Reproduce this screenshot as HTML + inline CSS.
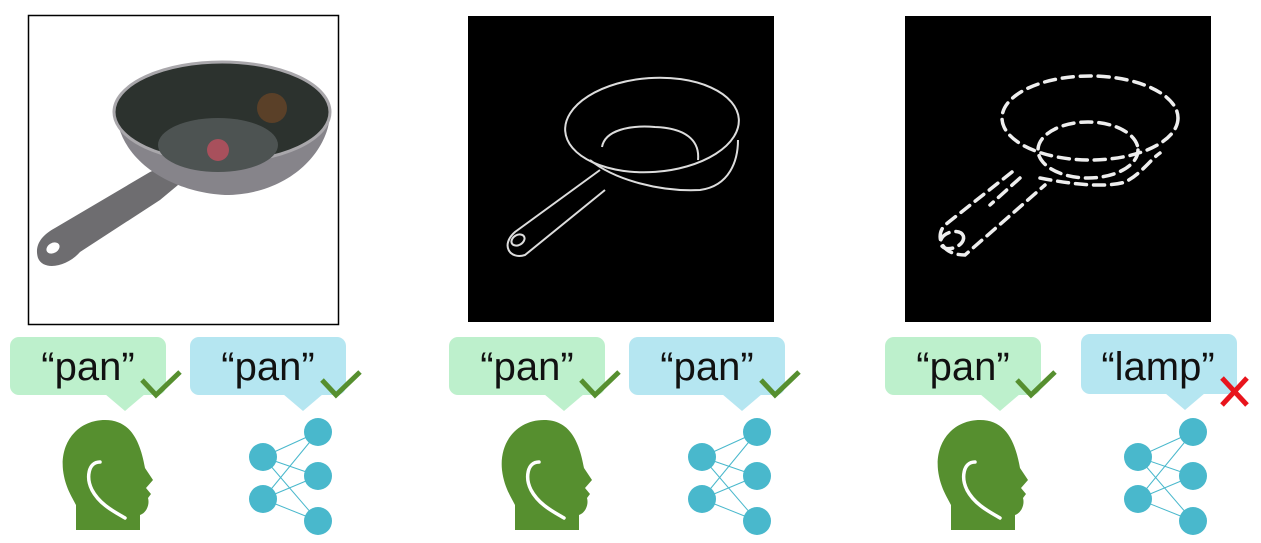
<!DOCTYPE html>
<html><head><meta charset="utf-8"><style>
html,body{margin:0;padding:0;background:#fff;width:1261px;height:543px;overflow:hidden}
svg{display:block}
text{font-family:"Liberation Sans",sans-serif}
</style></head><body>
<svg width="1261" height="543" viewBox="0 0 1261 543" xmlns="http://www.w3.org/2000/svg">
<defs>
<g id="head">
<path d="M105,420 C78,420 60,442 63,470 C65,487 72,497 76,505 L76,530 L140,530 L140,515 C146,513 150,505 148,498 L151,494 L146,488 L153,480 L145,468 C140,440 130,420 105,420 Z" fill="#568f2f"/>
<path d="M100,462 C88,462 86,478 92,490 C100,505 115,512 125,518" fill="none" stroke="#fff" stroke-width="3.5" stroke-linecap="round"/>
</g>
<g id="net" stroke="#49b8cc" stroke-width="1">
<line x1="263" y1="457" x2="318" y2="432"/><line x1="263" y1="457" x2="318" y2="476"/><line x1="263" y1="457" x2="318" y2="521"/>
<line x1="263" y1="499" x2="318" y2="432"/><line x1="263" y1="499" x2="318" y2="476"/><line x1="263" y1="499" x2="318" y2="521"/>
<g fill="#49b8cc" stroke="none">
<circle cx="263" cy="457" r="14"/><circle cx="263" cy="499" r="14"/>
<circle cx="318" cy="432" r="14"/><circle cx="318" cy="476" r="14"/><circle cx="318" cy="521" r="14"/></g>
</g>
<path id="check" d="M142,380 L156,395 L180,372" fill="none" stroke="#568f2f" stroke-width="5"/>
<g id="gb">
<rect x="10" y="337" width="156" height="58" rx="9" fill="#bdf0cc"/>
<polygon points="105,394 145,394 125,411" fill="#bdf0cc"/>
<text x="88" y="380" font-size="40" text-anchor="middle" fill="#111">“pan”</text>
</g>
</defs>

<rect x="28.5" y="15.5" width="310" height="309" fill="#fff" stroke="#000" stroke-width="1.5"/>
<g>
<path d="M38,258 C34,245 42,235 55,228 L150,172 L172,162 L178,185 L160,200 L80,252 C68,266 44,272 38,258 Z" fill="#6e6d70"/>
<ellipse cx="53" cy="248" rx="7" ry="5" fill="#fff" transform="rotate(-30 53 248)"/>
<path d="M116,110 C118,160 170,192 225,195 C290,195 330,150 330,112 Z" fill="#86848a"/>
<ellipse cx="222" cy="112" rx="108" ry="50" fill="#2c322e" stroke="#a9a7ab" stroke-width="3"/>
<ellipse cx="218" cy="145" rx="60" ry="27" fill="#4d5352"/>
<circle cx="218" cy="150" r="11" fill="#a8505c"/>
<circle cx="272" cy="108" r="15" fill="#7a4a25" opacity="0.6"/>
</g>

<rect x="468" y="16" width="306" height="306" fill="#000"/>
<g fill="none" stroke="#ddd" stroke-width="2">
<ellipse cx="652" cy="125" rx="87" ry="47" transform="rotate(-4 652 125)"/>
<path d="M590,160 C615,180 660,192 700,190 C730,186 738,160 738,140"/>
<path d="M602,147 C605,130 630,125 655,127 C685,128 700,140 698,160"/>
<path d="M600,170 L515,232 C500,245 510,260 525,255 L605,190"/>
<ellipse cx="518" cy="240" rx="7" ry="5" transform="rotate(-30 518 240)"/>
</g>

<rect x="905" y="16" width="306" height="306" fill="#000"/>
<g fill="none" stroke="#eee" stroke-width="3.5" stroke-dasharray="11 7" stroke-linecap="round">
<ellipse cx="1090" cy="118" rx="88" ry="42"/>
<ellipse cx="1088" cy="150" rx="50" ry="28"/>
<path d="M1040,178 C1050,180 1100,190 1125,182 C1140,175 1150,160 1160,153"/>
<path d="M1012,172 L945,225 C935,235 940,255 965,255 L1045,185"/>
<path d="M1020,178 L990,205"/>
<ellipse cx="952" cy="240" rx="12" ry="8" transform="rotate(-20 952 240)"/>
</g>

<use href="#gb"/>
<rect x="190" y="337" width="156" height="58" rx="9" fill="#b5e6f1"/>
<polygon points="283,394 323,394 303,411" fill="#b5e6f1"/>
<text x="268" y="380" font-size="40" text-anchor="middle" fill="#111">“pan”</text>
<use href="#check"/>
<use href="#check" transform="translate(180 0)"/>
<use href="#head"/>
<use href="#net"/>

<g transform="translate(439 0)">
<use href="#gb"/>
<rect x="190" y="337" width="156" height="58" rx="9" fill="#b5e6f1"/>
<polygon points="283,394 323,394 303,411" fill="#b5e6f1"/>
<text x="268" y="380" font-size="40" text-anchor="middle" fill="#111">“pan”</text>
<use href="#check"/>
<use href="#check" transform="translate(180 0)"/>
<use href="#head"/>
<use href="#net"/>
</g>

<g transform="translate(875 0)">
<use href="#gb"/>
<rect x="206" y="334" width="156" height="60" rx="9" fill="#b5e6f1"/>
<polygon points="290,393 330,393 310,410" fill="#b5e6f1"/>
<text x="283" y="380" font-size="40" text-anchor="middle" fill="#111">“lamp”</text>
<use href="#check"/>
<path d="M347,378 L372,405 M372,378 L347,405" stroke="#e8141c" stroke-width="5"/>
<use href="#head"/>
<use href="#net"/>
</g>
</svg>
</body></html>
